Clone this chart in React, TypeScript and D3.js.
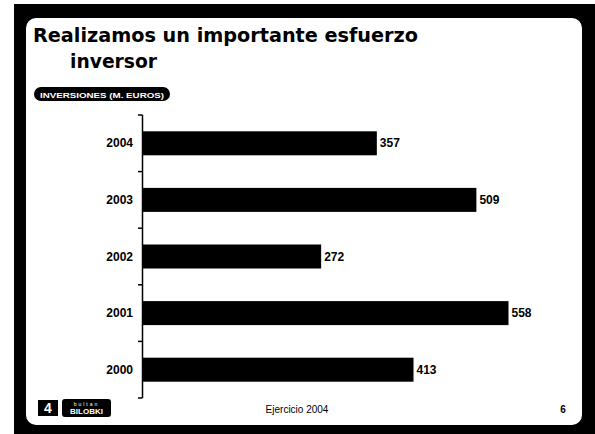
import React from "react";
import * as d3 from "d3";

const years = ["2004", "2003", "2002", "2001", "2000"];
const values = [357, 509, 272, 558, 413];
const titleLines = ["Realizamos un importante esfuerzo", "inversor"];
const pillLabel = "INVERSIONES (M. EUROS)";
const footerText = "Ejercicio 2004";
const pageNumber = "6";

const W = 595;
const H = 434;

export default function App() {
  const x = d3.scaleLinear().domain([0, 600]).range([143, 143 + 393]);
  const y = d3
    .scaleBand<string>()
    .domain(years)
    .range([115, 398])
    .paddingInner(0.576)
    .paddingOuter(0.288);
  const step = y.step();
  const r0 = 115;
  const tickYs = d3.range(years.length + 1).map((i) => r0 + i * step);
  const font = "Liberation Sans, Arial, sans-serif";

  return (
    <svg
      width={W}
      height={H}
      style={{ position: "absolute", left: 0, top: 0, display: "block", background: "#fff" }}
    >
      {/* frame */}
      <rect x={14} y={4} width={W - 14} height={H - 4} fill="#000" />
      <rect x={26} y={18} width={582 - 26} height={425 - 18} rx={10} fill="#fff" />

      {/* title */}
      <text
        x={33}
        y={42}
        fontFamily="DejaVu Sans, Verdana, sans-serif"
        fontWeight="bold"
        fontSize={20}
        textLength={385}
        lengthAdjust="spacingAndGlyphs"
        fill="#000"
      >
        {titleLines[0]}
      </text>
      <text
        x={70}
        y={68}
        fontFamily="DejaVu Sans, Verdana, sans-serif"
        fontWeight="bold"
        fontSize={20}
        textLength={87}
        lengthAdjust="spacingAndGlyphs"
        fill="#000"
      >
        {titleLines[1]}
      </text>

      {/* pill label */}
      <rect x={34} y={87} width={136} height={14} rx={7} fill="#000" />
      <text
        x={40}
        y={97.5}
        fontFamily={font}
        fontWeight="bold"
        fontSize={8}
        textLength={124}
        lengthAdjust="spacingAndGlyphs"
        fill="#fff"
      >
        {pillLabel}
      </text>

      {/* axis */}
      <line x1={142.5} x2={142.5} y1={tickYs[0]} y2={tickYs[tickYs.length - 1]} stroke="#000" strokeWidth={1.5} />
      {tickYs.map((t, i) => (
        <line key={i} x1={138} x2={142.5} y1={t} y2={t} stroke="#000" strokeWidth={1.5} />
      ))}

      {/* bars */}
      {years.map((yr, i) => (
        <g key={yr}>
          <rect
            x={x(0)}
            y={y(yr)!}
            width={x(values[i]) - x(0)}
            height={y.bandwidth()}
            fill="#000"
          />
          <text
            x={133}
            y={y(yr)! + y.bandwidth() / 2 + 4}
            textAnchor="end"
            fontFamily={font}
            fontWeight="bold"
            fontSize={12}
            fill="#000"
          >
            {yr}
          </text>
          <text
            x={x(values[i]) + 3}
            y={y(yr)! + y.bandwidth() / 2 + 4}
            fontFamily={font}
            fontWeight="bold"
            fontSize={12}
            fill="#000"
          >
            {values[i]}
          </text>
        </g>
      ))}

      {/* footer logo */}
      <rect x={38} y={400} width={20} height={16} fill="#000" />
      <text x={48} y={413} textAnchor="middle" fontFamily={font} fontWeight="bold" fontSize={14} fill="#fff">
        4
      </text>
      <rect x={62} y={399} width={49} height={18} rx={3} fill="#000" />
      <text x={86.5} y={405.5} textAnchor="middle" fontFamily={font} fontSize={5} fill="#fff" letterSpacing={2}>
        bultan
      </text>
      <text
        x={86.5}
        y={414}
        textAnchor="middle"
        fontFamily={font}
        fontWeight="bold"
        fontSize={8}
        fill="#fff"
      >
        BILOBKI
      </text>

      {/* footer text */}
      <text x={297} y={413} textAnchor="middle" fontFamily={font} fontSize={10} fill="#000">
        {footerText}
      </text>
      <text x={563} y={413} textAnchor="middle" fontFamily={font} fontWeight="bold" fontSize={10} fill="#000">
        {pageNumber}
      </text>
    </svg>
  );
}
